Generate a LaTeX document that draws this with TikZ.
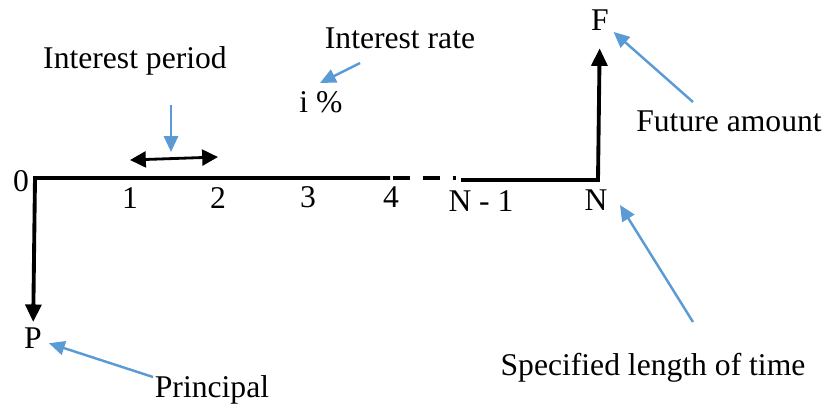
\documentclass[tikz,border=0pt]{standalone}
\usepackage{fontspec}
\setmainfont{Liberation Serif}
\usetikzlibrary{arrows.meta, positioning, calc}
\definecolor{azul}{RGB}{91, 155, 213}
\tikzset{
  rotulo/.style={font=\fontsize{18}{20}\selectfont, inner sep=1pt},
  eixo/.style={line width=2.8pt},
  seta/.style={-{Triangle[length=10pt, width=9pt]}, line width=2.2pt},
  setaDupla/.style={{Triangle[length=9pt, width=9pt]}-{Triangle[length=9pt, width=9pt]}, line width=1.6pt},
  setaAzul/.style={-{Triangle[length=9pt, width=8pt]}, azul, line width=1.4pt},
}

\begin{document}
\begin{tikzpicture}[x=0.02cm, y=-0.02cm]
  \useasboundingbox (0,0) rectangle (825,410);

  % linha do tempo
  \coordinate (t0) at (35,178);
  \coordinate (t4) at (390,178);
  \coordinate (d1) at (393,178);
  \coordinate (d2) at (456,178);
  \coordinate (tr) at (461,180);
  \coordinate (tN) at (598,180);

  \node[rotulo] (zero) at (21,181) {0};
  \node[rotulo] (um)   at (130,198) {1};
  \node[rotulo] (dois) at (218,198) {2};
  \node[rotulo] (tres) at (308,197) {3};
  \node[rotulo] (quatro) at (391,197) {4};
  \node[rotulo] (nmenos) at (481,201) {N - 1};
  \node[rotulo] (nfim) at (596,200) {N};

  \node[rotulo] (P) at (33,338) {P};
  \node[rotulo] (F) at (600,20) {F};

  \draw[eixo, seta, shorten >=2pt] (t4) -- (t0) -- (P);
  \draw[eixo, dash pattern=on 9.6pt off 7.4pt] (d1) -- (d2);
  \draw[eixo, seta, shorten >=9pt] (tr) -- (tN) -- (F);

  % periodo e taxa
  \node[rotulo] (periodo) at (135,61) {Interest period};
  \node[rotulo] (taxa) at (400,38) {Interest rate};
  \node[rotulo] (juros) at (321,102) {i \%};

  \coordinate (p1) at (130,160);
  \coordinate (p2) at (218,157);
  \draw[setaDupla] (p1) -- (p2);

  \coordinate (aPer1) at (171,105);
  \coordinate (aPer2) at (171,152);
  \draw[setaAzul] (aPer1) -- (aPer2);

  \coordinate (aTaxa1) at (360,63);
  \coordinate (aTaxa2) at (320,83);
  \draw[setaAzul] (aTaxa1) -- (aTaxa2);

  % legendas
  \node[rotulo] (futuro) at (729,121) {Future amount};
  \node[rotulo] (prazo) at (653,368) {Specified length of time};
  \node[rotulo] (principal) at (212,390) {Principal};

  \coordinate (aFut) at (693,102);
  \coordinate (aPra1) at (693,322);
  \coordinate (aPra2) at (620,205);
  \coordinate (aPri) at (153,377);

  \draw[setaAzul, shorten >=2pt] (aFut) -- (F);
  \draw[setaAzul] (aPra1) -- (aPra2);
  \draw[setaAzul, shorten >=3pt] (aPri) -- (P);
\end{tikzpicture}
\end{document}
